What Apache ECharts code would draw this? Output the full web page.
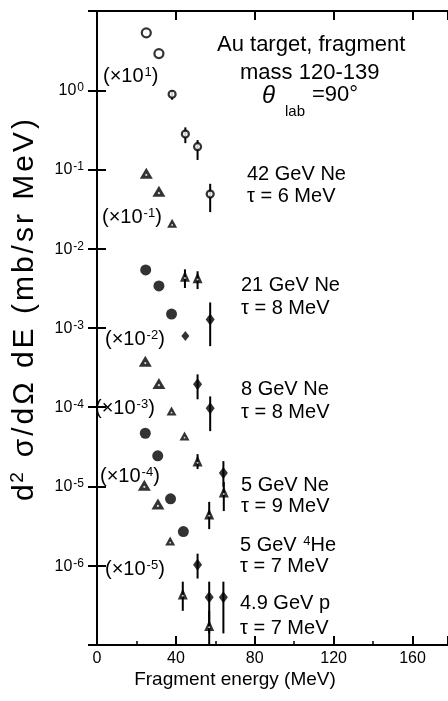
<!DOCTYPE html>
<html>
<head>
<meta charset="utf-8">
<script src="https://cdn.jsdelivr.net/npm/echarts/dist/echarts.min.js"></script>
<style>
  html, body { margin: 0; background: #fff; }
  #chart { width: 448px; height: 701px; }
</style>
</head>
<body>
<div id="chart"></div>
<script>
// decades labelled on the y axis (10^0 ... 10^-6)
const yDecades = [0, -1, -2, -3, -4, -5, -6];
const xTicks = [0, 40, 80, 120, 160];

// points: [E (MeV), d2sigma]; barred points: [E, value, low, high]
// 42 GeV Ne (x10^1)
const ne42 = [[25, 5.3], [31.4, 2.9]];
const ne42Bar = [[38.1, 0.89, 0.76, 0.99], [44.8, 0.28, 0.215, 0.34], [51, 0.194, 0.132, 0.235], [57.4, 0.049, 0.029, 0.066]];
// 21 GeV Ne (x10^-1)
const ne21 = [[25, 0.090], [31.4, 0.053], [38.1, 0.021]];
const ne21Open = [[44.6, 0.0045, 0.0032, 0.0055], [51, 0.0043, 0.0031, 0.0052]];
const ne21Solid = [[57.4, 0.00128, 0.00059, 0.0021]];
// 8 GeV Ne (x10^-2)
const ne8 = [[24.7, 0.0054], [31.4, 0.0034], [37.8, 0.0015]];
const ne8Small = [[44.8, 0.00079]];
const ne8Solid = [[51, 0.000195, 0.000126, 0.00026], [57.4, 0.000097, 0.00005, 0.000137]];
// 5 GeV Ne (x10^-3)
const ne5 = [[24.5, 3.8e-4], [31.4, 2.0e-4], [37.8, 9.0e-5], [44.4, 4.35e-5]];
const ne5Open = [[51, 2.1e-5, 1.66e-5, 2.56e-5], [56.9, 4.5e-6, 2.9e-6, 6.4e-6], [64.3, 8.5e-6, 4.9e-6, 1.14e-5]];
const ne5Solid = [[64.1, 1.48e-5, 9.9e-6, 2.09e-5]];
// 5 GeV 4He (x10^-4)
const he5 = [[24.5, 4.7e-5], [30.8, 2.44e-5], [37.3, 7.0e-6], [43.8, 2.7e-6]];
const he5Solid = [[51, 1.03e-6, 6.9e-7, 1.42e-6]];
// 4.9 GeV p (x10^-5)
const p49 = [[24, 1.04e-5], [30.9, 6.0e-6], [37.1, 2.06e-6]];
const p49Open = [[43.5, 4.4e-7, 2.7e-7, 6.3e-7], [56.9, 1.76e-7, 1.02e-7, 2.72e-7]];
const p49Solid = [[56.9, 4.0e-7, 1.4e-7, 6.3e-7], [64.1, 4.0e-7, 1.4e-7, 6.3e-7]];

const FONT = 'Liberation Sans, Arial, sans-serif';
const chart = echarts.init(document.getElementById('chart'));

const openStyle = { color: '#fff', borderColor: '#000', borderWidth: 2.2 };
const solidStyle = { color: '#000' };
const holeStyle = { color: '#fff' };

function errBars(data) {
  return {
    type: 'custom', data: data, silent: true, z: 2,
    encode: { x: 0, y: 1 },
    renderItem: function (params, api) {
      const a = api.coord([api.value(0), api.value(3)]);
      const b = api.coord([api.value(0), api.value(2)]);
      return { type: 'line', shape: { x1: a[0], y1: a[1], x2: b[0], y2: b[1] },
        style: { stroke: '#000', lineWidth: 2 } };
    }
  };
}
function dots(data, symbol, size, style, z) {
  return { type: 'scatter', data: data, symbol: symbol, symbolSize: size,
    itemStyle: style, silent: true, z: z || 3 };
}
// black triangle with a small white hole, as in the print
function tris(data, big) {
  const size = big ? function (v) { return v[0] > 36 ? [10, 9] : [13, 11]; } : [10, 11];
  const hole = big ? function (v) { return v[0] > 36 ? 1.8 : 2.2; } : 2;
  const s = dots(data, 'triangle', size, solidStyle, 3);
  const h = dots(data, 'circle', hole, holeStyle, 4);
  h.symbolOffset = [0, 1.8];
  return [s, h];
}

function txt(text, x, y, size, extra) {
  return Object.assign({
    type: 'text', x: x, y: y, silent: true,
    style: { text: text, fontSize: size, fontFamily: FONT, fill: '#000',
      verticalAlign: 'middle', align: 'left',
      rich: {
        s: { fontSize: Math.round(size * 0.65), fontFamily: FONT, verticalAlign: 'top', lineHeight: 10, padding: [0, 0, 12, 1] },
        b: { fontSize: size, fontFamily: FONT, verticalAlign: 'bottom', lineHeight: size }
      } }
  }, extra || {});
}

// y axis title, slightly letter-spaced like the original lettering
const yTitle = 'd² σ/dΩ dE (mb/sr MeV)';
let yTitleRich = '';
for (const ch of yTitle) {
  yTitleRich += ch === '²' ? '{s|2}' : '{c|' + ch + '}';
}

const beams = [
  ['42 GeV Ne', 'τ = 6 MeV', 247, 174, 196],
  ['21 GeV Ne', 'τ = 8 MeV', 241, 285, 308],
  ['8 GeV Ne', 'τ = 8 MeV', 241, 389, 412],
  ['5 GeV Ne', 'τ = 9 MeV', 241, 485, 506],
  ['{b|5 GeV }{s|4}{b|He}', 'τ = 7 MeV', 240, 545, 566],
  ['4.9 GeV p', 'τ = 7 MeV', 240, 603, 628]
];
const factors = [
  ['(×{b|10}{s|1}{b|)}', 103, 76], ['(×{b|10}{s|-1}{b|)}', 102, 217],
  ['(×{b|10}{s|-2}{b|)}', 105, 339], ['(×{b|10}{s|-3}{b|)}', 95, 408],
  ['(×{b|10}{s|-4}{b|)}', 100, 476], ['(×{b|10}{s|-5}{b|)}', 105, 569]
];

const graphics = [
  txt('Au target, fragment', 217, 45, 22),
  txt('mass 120-139', 240, 73, 22),
  { type: 'text', x: 262, y: 96, silent: true,
    style: { text: 'θ', fontSize: 24, fontStyle: 'italic', fontFamily: FONT, fill: '#000', verticalAlign: 'middle' } },
  txt('lab', 285, 112, 15),
  txt('=90°', 312, 95, 22),
  { type: 'text', x: 235, y: 680, silent: true,
    style: { text: 'Fragment energy (MeV)', fontSize: 19, fontFamily: FONT, fill: '#000', align: 'center', verticalAlign: 'middle' } },
  { type: 'text', x: 24, y: 310, rotation: Math.PI / 2, silent: true,
    style: { text: yTitleRich, fontSize: 30, fontFamily: FONT, fill: '#000', align: 'center', verticalAlign: 'middle',
      rich: {
        c: { fontSize: 30, fontFamily: FONT, verticalAlign: 'bottom', lineHeight: 32, padding: [0, 1.5, 0, 1.5] },
        s: { fontSize: 19, fontFamily: FONT, verticalAlign: 'top', lineHeight: 19, padding: [0, 2, 15, 0] }
      } } }
];
beams.forEach(function (b) {
  graphics.push(txt(b[0], b[2], b[3], 20));
  graphics.push(txt(b[1], b[2], b[4], 20));
});
factors.forEach(function (f) {
  graphics.push(txt(f[0], f[1], f[2], 20));
});

const axisLine = { show: true, lineStyle: { color: '#000', width: 2 } };
const tick = { show: true, inside: true, length: 9, lineStyle: { color: '#000', width: 2 } };

const option = {
  backgroundColor: '#fff',
  animation: false,
  grid: { left: 97, top: 11, width: 353, height: 634 },
  xAxis: [
    {
      type: 'value', min: 0, max: 178, interval: 40, position: 'bottom',
      axisLine: axisLine, axisTick: tick, splitLine: { show: false },
      minorTick: { show: true, splitNumber: 2, length: 4, lineStyle: { color: '#000', width: 1.5 } },
      axisLabel: { color: '#000', fontSize: 16, fontFamily: FONT, margin: 6, showMaxLabel: false,
        formatter: function (v) { return xTicks.indexOf(v) >= 0 ? String(v) : ''; } }
    },
    {
      type: 'value', min: 0, max: 178, interval: 40, position: 'top',
      axisLine: axisLine, axisTick: tick, splitLine: { show: false }, axisLabel: { show: false }
    }
  ],
  yAxis: [
    {
      type: 'log', logBase: 10, min: 1e-7, max: 10, splitNumber: 8, position: 'left',
      axisLine: axisLine, axisTick: tick, splitLine: { show: false },
      axisLabel: {
        color: '#000', margin: 13, fontFamily: FONT,
        formatter: function (v) {
          const e = Math.round(Math.log10(v));
          if (yDecades.indexOf(e) < 0) return '';
          return '{b|10}{s|' + (e === 0 ? '0' : '-' + (-e)) + '}';
        },
        rich: {
          b: { fontSize: 16, fontFamily: FONT, verticalAlign: 'bottom', lineHeight: 17 },
          s: { fontSize: 12, fontFamily: FONT, verticalAlign: 'top', lineHeight: 11, padding: [0, 0, 9, 1] }
        }
      }
    },
    {
      type: 'log', logBase: 10, min: 1e-7, max: 10, splitNumber: 8, position: 'right',
      axisLine: axisLine, axisTick: tick, splitLine: { show: false }, axisLabel: { show: false }
    }
  ],
  graphic: graphics,
  series: [
    errBars(ne42Bar), errBars(ne21Open), errBars(ne21Solid), errBars(ne8Solid),
    errBars(ne5Open), errBars(ne5Solid), errBars(he5Solid), errBars(p49Open), errBars(p49Solid),
    dots(ne42, 'circle', 9, openStyle),
    dots(ne42Bar, 'circle', 7, openStyle),
    dots(ne21Solid, 'diamond', [9, 12], solidStyle),
    dots(ne8, 'circle', 11, solidStyle),
    dots(ne8Small, 'diamond', [8, 10], solidStyle),
    dots(ne8Solid, 'diamond', [9, 12], solidStyle),
    dots(ne5Solid, 'diamond', [9, 12], solidStyle),
    dots(he5, 'circle', 11, solidStyle),
    dots(he5Solid, 'diamond', [9, 12], solidStyle),
    dots(p49Solid, 'diamond', [9, 12], solidStyle)
  ].concat(tris(ne21, true), tris(ne21Open, false), tris(ne5, true), tris(ne5Open, false),
    tris(p49, true), tris(p49Open, false))
};
chart.setOption(option);
</script>
</body>
</html>
